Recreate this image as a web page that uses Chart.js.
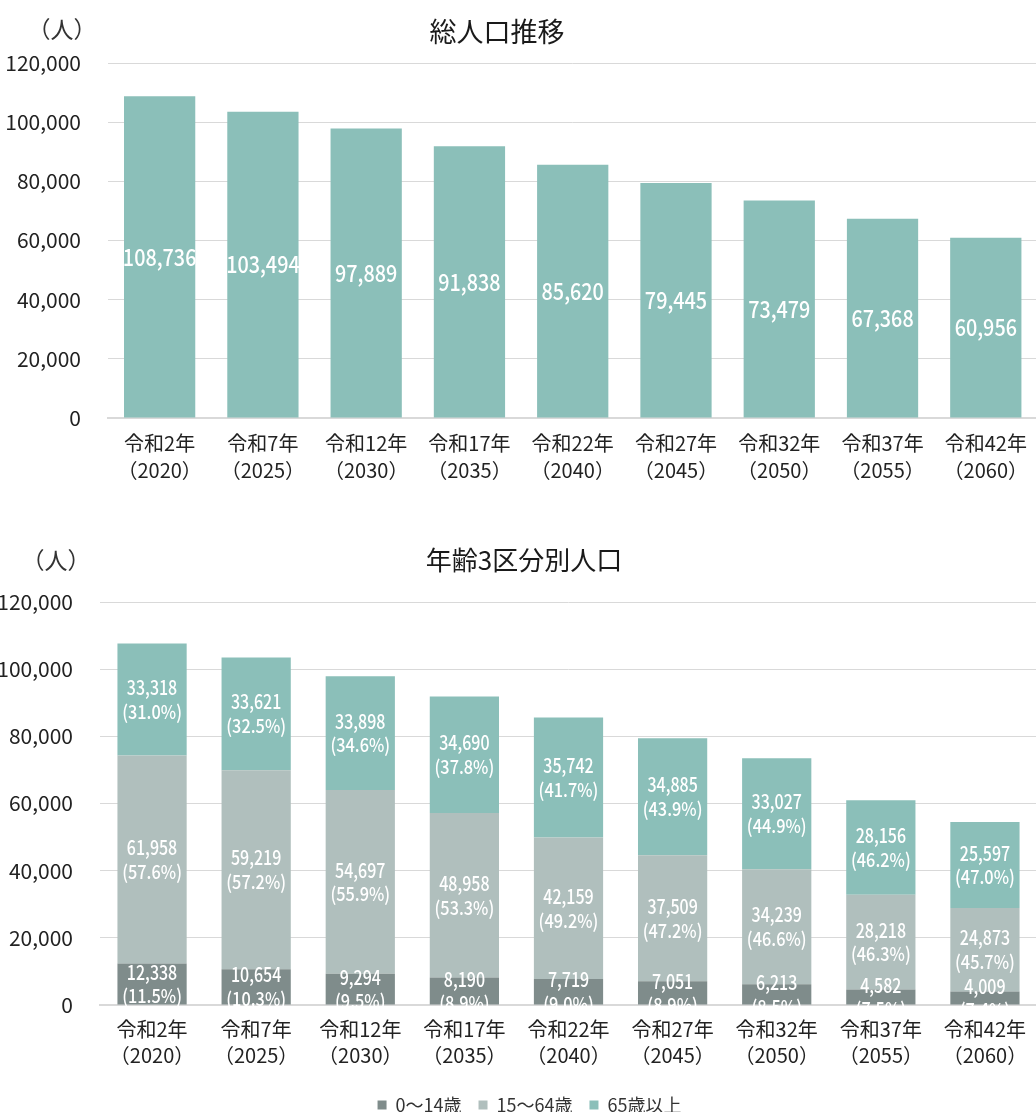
<!DOCTYPE html>
<html><head><meta charset="utf-8">
<script src="https://cdn.jsdelivr.net/npm/chart.js@4"></script>
<style>
html,body{margin:0;padding:0;background:#fff;overflow:hidden;width:1036px;height:1112px;}
#w1{position:absolute;left:0;top:0;width:1040px;height:500px;}
#w2{position:absolute;left:0;top:520px;width:1040px;height:604px;}
</style></head><body>
<div id="w1"><canvas id="c1"></canvas></div>
<div id="w2"><canvas id="c2"></canvas></div>
<script>
// ---- data ----
const categories = [
  ['令和2年','（2020）'],['令和7年','（2025）'],['令和12年','（2030）'],
  ['令和17年','（2035）'],['令和22年','（2040）'],['令和27年','（2045）'],
  ['令和32年','（2050）'],['令和37年','（2055）'],['令和42年','（2060）']
];
const totalPopulation = [108736,103494,97889,91838,85620,79445,73479,67368,60956];
const age0to14  = [12338,10654,9294,8190,7719,7051,6213,4582,4009];
const age15to64 = [61958,59219,54697,48958,42159,37509,34239,28218,24873];
const age65plus = [33318,33621,33898,34690,35742,34885,33027,28156,25597];
const pct0to14  = ['11.5%','10.3%','9.5%','8.9%','9.0%','8.9%','8.5%','7.5%','7.4%'];
const pct15to64 = ['57.6%','57.2%','55.9%','53.3%','49.2%','47.2%','46.6%','46.3%','45.7%'];
const pct65plus = ['31.0%','32.5%','34.6%','37.8%','41.7%','43.9%','44.9%','46.2%','47.0%'];
const seriesNames = ['0～14歳','15～64歳','65歳以上'];
const yMax = 120000, yStep = 20000;

// ---- styles ----
const FONT = "'Noto Sans CJK JP',sans-serif";
const COL_TEAL = '#8bbfb9', COL_LIGHT = '#b0bfbd', COL_DARK = '#7f8c8b';
const fmt = v => Number(v).toLocaleString('en-US');

// draw text horizontally condensed (the original uses a narrow typeface)
function narrowText(ctx, text, x, y, sx) {
  ctx.save();
  ctx.translate(x, y);
  ctx.scale(sx, 1);
  ctx.fillText(text, 0, 0);
  ctx.restore();
}

const headings = {
  id: 'headings',
  afterDraw(chart, args, o) {
    const ctx = chart.ctx;
    ctx.save();
    ctx.fillStyle = '#1a1a1a';
    ctx.textAlign = 'center'; ctx.textBaseline = 'middle';
    ctx.font = o.titleSize + "px " + FONT;
    ctx.fillText(o.title, o.titleX, o.titleY);
    ctx.fillStyle = '#333';
    ctx.font = "23px " + FONT;
    ctx.fillText(o.unit, o.unitX, o.unitY);
    ctx.restore();
  }
};

const barLabels = {
  id: 'barLabels',
  afterDatasetsDraw(chart, args, o) {
    const ctx = chart.ctx;
    ctx.save();
    ctx.fillStyle = '#fff';
    ctx.textAlign = 'center'; ctx.textBaseline = 'middle';
    chart.data.datasets.forEach((ds, di) => {
      const meta = chart.getDatasetMeta(di);
      meta.data.forEach((bar, i) => {
        const mid = (bar.y + bar.base) / 2;
        const lines = o.lines(di, i);
        const n = lines.length;
        lines.forEach((ln, k) => {
          ctx.font = ln.font;
          narrowText(ctx, ln.text, bar.x, mid + (k - (n - 1) / 2) * o.gap, ln.sx);
        });
      });
    });
    ctx.restore();
  }
};

// nudge the legend slightly right, as in the original
const legendShift = {
  id: 'legendShift',
  afterLayout(chart, args, o) {
    if (chart.legend) { chart.legend.left += o.dx; chart.legend.right += o.dx; }
  }
};

function scales(yWidth, xHeight, xPad, xLine) {
  return {
    x: {
      grid: { display: false, drawTicks: false },
      border: { color: '#d9d9d9', width: 2 },
      ticks: { color: '#222', font: { family: FONT, size: 20, lineHeight: xLine }, padding: xPad, maxRotation: 0, autoSkip: false },
      afterFit(s) { s.height = xHeight; }
    },
    y: {
      min: 0, max: yMax,
      grid: { color: '#d9d9d9', lineWidth: 1, drawTicks: false },
      border: { display: false },
      ticks: { stepSize: yStep, color: '#222', padding: 27, font: { family: FONT, size: 21 }, callback: v => fmt(v) },
      afterFit(s) { s.width = yWidth; }
    }
  };
}

new Chart(document.getElementById('c1'), {
  type: 'bar',
  data: {
    labels: categories,
    datasets: [{ label: '総人口', data: totalPopulation, backgroundColor: COL_TEAL, borderWidth: 0,
      barPercentage: 1, categoryPercentage: 0.69 }]
  },
  options: {
    responsive: true, maintainAspectRatio: false, animation: false,
    layout: { padding: { top: 63, right: 0, bottom: 0, left: 0 } },
    scales: scales(108, 82, 12, 1.35),
    plugins: {
      legend: { display: false }, tooltip: { enabled: false },
      headings: { title: '総人口推移', titleSize: 27, titleX: 497, titleY: 32, unit: '（人）', unitX: 62, unitY: 29 },
      barLabels: { gap: 0, lines: (di, i) => [{ text: fmt(totalPopulation[i]), font: '500 23px ' + FONT, sx: 0.86 }] }
    }
  },
  plugins: [headings, barLabels]
});

const stackVals = [age0to14, age15to64, age65plus];
const stackPct = [pct0to14, pct15to64, pct65plus];
const stackCols = [COL_DARK, COL_LIGHT, COL_TEAL];
new Chart(document.getElementById('c2'), {
  type: 'bar',
  data: {
    labels: categories,
    datasets: stackVals.map((d, k) => ({
      label: seriesNames[k], data: d, backgroundColor: stackCols[k], borderWidth: 0,
      barPercentage: 1, categoryPercentage: 0.665
    }))
  },
  options: {
    responsive: true, maintainAspectRatio: false, animation: false,
    layout: { padding: { top: 82, right: 3, bottom: 0, left: 0 } },
    scales: (() => { const s = scales(100, 74, 11, 1.3); s.x.stacked = true; s.y.stacked = true; return s; })(),
    plugins: {
      tooltip: { enabled: false },
      legend: {
        position: 'bottom',
        labels: { color: '#333', font: { family: FONT, size: 18 }, boxWidth: 9, boxHeight: 9, padding: 17 }
      },
      legendShift: { dx: 11 },
      headings: { title: '年齢3区分別人口', titleSize: 26, titleX: 524, titleY: 40, unit: '（人）', unitX: 56, unitY: 40 },
      barLabels: { gap: 24, lines: (di, i) => [
        { text: fmt(stackVals[di][i]), font: '500 20px ' + FONT, sx: 0.8 },
        { text: '(' + stackPct[di][i] + ')', font: '500 19px ' + FONT, sx: 0.86 }
      ] }
    }
  },
  plugins: [headings, barLabels, legendShift]
});
</script>
</body></html>
